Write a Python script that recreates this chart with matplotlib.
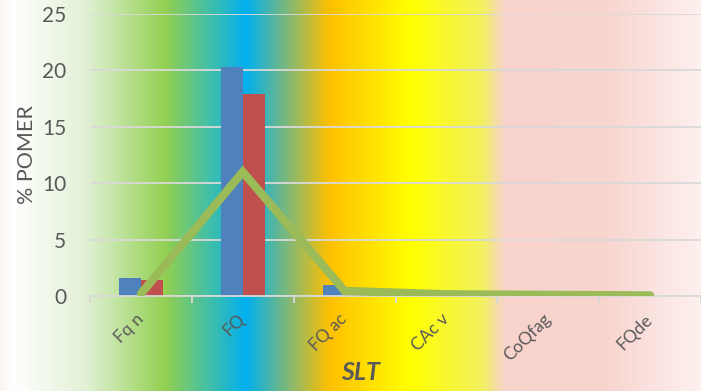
import numpy as np
import matplotlib
matplotlib.use('Agg')
import matplotlib.pyplot as plt
from matplotlib.colors import LinearSegmentedColormap

# datos
categorias = ['Fq n', 'FQ', 'FQ ac', 'CAc v', 'CoQfag', 'FQde']
serie_azul = [1.6, 20.3, 1.0, 0, 0, 0]
serie_roja = [1.4, 17.9, 0.3, 0, 0, 0]
serie_linea = [0.2, 11.0, 0.45, 0.15, 0.1, 0.05]
yticks = [0, 5, 10, 15, 20, 25]

plt.rcParams['font.family'] = ['Lato', 'DejaVu Sans']
gris = '#595959'

fig = plt.figure(figsize=(7.01, 3.91), dpi=100)

# fondo degradado horizontal
fondo = LinearSegmentedColormap.from_list('fondo', [
    (0.0, '#FCF5F2'), (0.015, '#FFFFFF'), (0.12, '#E2F1D6'),
    (0.235, '#92D050'), (0.35, '#00B0F0'), (0.47, '#FFC000'),
    (0.585, '#FFFF00'), (0.69, '#F2F060'), (0.72, '#F8D3CC'),
    (0.87, '#F8D5D0'), (1.0, '#FDF0EE')])
ax_bg = fig.add_axes([0, 0, 1, 1], zorder=-1)
ax_bg.imshow(np.linspace(0, 1, 701)[None, :], cmap=fondo, aspect='auto',
             extent=[0, 1, 0, 1])
ax_bg.axis('off')

ax = fig.add_axes([90 / 701, 1 - 296 / 391, 611 / 701, 282 / 391])
ax.patch.set_alpha(0)

x = np.arange(len(categorias))
ancho = 0.216
ax.bar(x - ancho / 2, serie_azul, ancho, color='#4F81BD', zorder=2)
ax.bar(x + ancho / 2, serie_roja, ancho, color='#C0504D', zorder=2)
ax.plot(x, serie_linea, color='#9BBB59', lw=6, solid_capstyle='round',
        solid_joinstyle='miter', zorder=3)

ax.set_xlim(-0.5, len(categorias) - 0.5)
ax.set_ylim(0, 25)
ax.set_yticks(yticks)
ax.grid(axis='y', color='#D9D9D9', lw=1.3, zorder=0)
ax.set_axisbelow(True)
for s in ['top', 'right', 'left']:
    ax.spines[s].set_visible(False)
ax.spines['bottom'].set_color('#D9D9D9')
ax.spines['bottom'].set_linewidth(1.3)

ax.set_xticks(np.arange(-0.5, len(categorias)), labels=[])
ax.set_xticks(x, labels=categorias, minor=True)
ax.tick_params(axis='x', which='major', length=5, color='#D9D9D9', width=1.3)
ax.tick_params(axis='x', which='minor', length=0, pad=15, labelsize=12.5,
               labelcolor=gris)
for lbl in ax.get_xticklabels(minor=True):
    lbl.set_rotation(45)
    lbl.set_ha('right')
    lbl.set_va('center')
    lbl.set_rotation_mode('anchor')
ax.tick_params(axis='y', length=0, labelsize=15, labelcolor=gris, pad=17)

fig.text(27 / 701, 1 - 155 / 391, '% POMER', rotation=90, ha='center',
         va='center', fontsize=15.5, color=gris)
fig.text(360 / 701, 1 - 373 / 391, 'SLT', ha='center', va='center',
         fontsize=18, fontweight='bold', fontstyle='italic', color=gris)

fig.savefig('out.png', dpi=100)
